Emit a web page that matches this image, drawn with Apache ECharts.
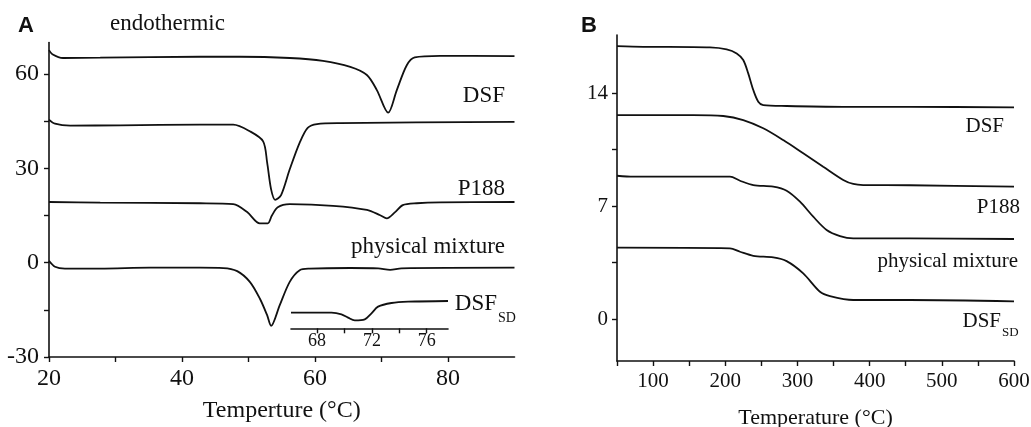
<!DOCTYPE html>
<html><head><meta charset="utf-8">
<script src="https://cdn.jsdelivr.net/npm/echarts@6/dist/echarts.min.js"></script>
<style>html,body{margin:0;padding:0;background:#fff}#c{width:1031px;height:427px}</style>
</head><body><div id="c"></div>
<script>
// ---------- Panel A (DSC) ----------
const aDSF_T = [20.0,20.5,22.1,27.7,42.7,48.7,56.2,61.2,65.3,67.8,69.3,71.0,72.3,73.8,75.0,78.8,90];
const aDSF_V = [67.6,66.3,65.1,65.2,65.5,65.5,65.1,64.2,62.3,59.7,54.9,47.7,54.9,62.8,65.3,65.8,65.7];
const aP188_T = [20,20.9,23.2,30.7,42.7,47.7,50.2,52.2,52.8,53.4,54.0,54.9,56.2,57.7,58.9,60.3,63.8,90];
const aP188_V = [45.5,44.2,43.6,43.7,43.9,43.9,41.8,38.6,31.9,23.3,20.0,21.5,29.7,38.2,42.9,44.1,44.4,44.8];
const aPM_T = [20,27.7,42.7,47.7,49.8,51.7,52.9,53.5,54.4,56.2,62.7,67.8,69.8,70.8,72.0,73.2,75.3,78.8,90];
const aPM_V = [19.3,19.1,18.9,18.6,16.1,12.5,12.5,14.9,17.6,18.6,18.1,16.8,15.1,14.1,16.0,18.3,18.9,19.2,19.3];
const aSD_T = [20,20.9,22.4,27.7,35.2,42.7,46.2,48.3,50.2,51.7,52.8,53.4,54.7,56.2,57.7,59.2,65.3,69.5,71.3,73,90];
const aSD_V = [0.6,-1.3,-1.9,-1.9,-1.6,-1.6,-1.7,-2.7,-6.1,-11.4,-16.7,-20.1,-13.5,-6.1,-2.4,-1.9,-1.7,-1.8,-2.3,-1.8,-1.6];
const insetT = [66.1,69.05,69.78,70.26,70.75,71.48,71.97,72.45,73.43,74.64,77.55];
const insetV = [4.7,4.7,4.2,3.2,2.4,2.7,4.5,6.5,7.6,8.0,8.2];
const aXTicks = [20,30,40,50,60,70,80];
const aXLabels = [20,40,60,80];
const aYTicks = [-30,-15,0,15,30,45,60];
const aYLabels = [-30,0,30,60];
const insetTicks = [68,70,72,74,76];
const insetLabels = [68,72,76];
// ---------- Panel B (TGA) ----------
const bDSF_T = [50,86.4,178.8,201.9,215.8,224.9,231.8,238.8,245.7,252.6,285,363.4,455.8,600];
const bDSF_V = [16.91,16.87,16.83,16.71,16.46,16.05,15.22,14.19,13.47,13.26,13.20,13.15,13.15,13.11];
const bP188_T = [50,155.7,197.2,224.9,252.6,280.3,308,335.7,363.4,377.3,391.1,455.8,600];
const bP188_V = [12.64,12.64,12.58,12.33,11.82,11.09,10.27,9.44,8.62,8.37,8.30,8.29,8.2];
const bPM_T = [50,72.6,206.5,220.4,238.8,266.5,285,303.5,321.9,340.4,358.9,377.3,455.8,600];
const bPM_V = [8.88,8.82,8.82,8.57,8.30,8.20,7.95,7.27,6.34,5.52,5.14,5.00,5.00,4.96];
const bSD_T = [50,206.5,220.4,238.8,266.5,285,308,331.2,345,377.3,455.8,600];
const bSD_V = [4.42,4.38,4.17,3.92,3.82,3.59,2.83,1.69,1.42,1.18,1.18,1.10];
const bXTicks = [50,100,150,200,250,300,350,400,450,500,550,600];
const bXLabels = [100,200,300,400,500,600];
const bYTicks = [0,3.5,7,10.5,14];
const bYLabels = [0,7,14];

const zip = (a,b) => a.map((v,i)=>[v,b[i]]);
const SERIF = '"Liberation Serif","Times New Roman",serif';
const INK = '#111111';

function axis(extra, ticks, labels, fs, margin) {
  return Object.assign({
    type:'value', splitLine:{show:false},
    axisLine:{show:true, onZero:false, lineStyle:{color:INK, width:1.6}},
    axisTick:{show:true, inside:false, length:5, customValues:ticks, lineStyle:{color:INK, width:1.4}},
    axisLabel:{show:true, customValues:labels, color:INK, fontFamily:SERIF, fontSize:fs, margin:margin}
  }, extra);
}
function line(name, data, xi, yi) {
  return {name, type:'line', xAxisIndex:xi, yAxisIndex:yi, data, showSymbol:false, smooth:0.3,
    lineStyle:{color:INK, width:1.8}, silent:true, animation:false};
}
function txt(text, x, y, fs, align) {
  return {type:'text', x, y, style:{text, fill:INK, fontFamily:SERIF, fontSize:fs,
    align:align, verticalAlign:'middle', textAlign:align, textVerticalAlign:'middle'}};
}
function bold(text, x, y) {
  return {type:'text', x, y, style:{text, fill:INK, fontFamily:'"Liberation Sans",Arial,sans-serif',
    fontWeight:'bold', fontSize:22, align:'left', verticalAlign:'middle', textAlign:'left', textVerticalAlign:'middle'}};
}

const chart = echarts.init(document.getElementById('c'), null, {renderer:'canvas'});
chart.setOption({
  backgroundColor:'#fff',
  animation:false,
  grid:[
    {left:49, top:42.6, width:465.5, height:314.4, containLabel:false, outerBoundsMode:'none'},
    {left:617, top:35, width:397, height:326, containLabel:false, outerBoundsMode:'none'},
    {left:291, top:295, width:157, height:33.3, containLabel:false, outerBoundsMode:'none'}
  ],
  xAxis:[
    axis({gridIndex:0, min:20, max:90, name:'Temperture (°C)', nameLocation:'middle', nameGap:42,
      nameTextStyle:{color:INK, fontFamily:SERIF, fontSize:24}}, aXTicks, aXLabels, 24, 10),
    axis({gridIndex:1, min:50, max:600, name:'Temperature (°C)', nameLocation:'middle', nameGap:46,
      nameTextStyle:{color:INK, fontFamily:SERIF, fontSize:22}}, bXTicks, bXLabels, 21, 10),
    axis({gridIndex:2, min:66.1, max:77.55}, insetTicks, insetLabels, 18, 4)
  ],
  yAxis:[
    axis({gridIndex:0, min:-30, max:70}, aYTicks, aYLabels, 24, 10),
    axis({gridIndex:1, min:-2.6, max:17.6}, bYTicks, bYLabels, 21, 9),
    {type:'value', gridIndex:2, min:0, max:10, show:false}
  ],
  series:[
    line('DSF', zip(aDSF_T,aDSF_V), 0, 0),
    line('P188', zip(aP188_T,aP188_V), 0, 0),
    line('physical mixture', zip(aPM_T,aPM_V), 0, 0),
    line('DSF_SD', zip(aSD_T,aSD_V), 0, 0),
    line('DSF_SD inset', zip(insetT,insetV), 2, 2),
    line('DSF', zip(bDSF_T,bDSF_V), 1, 1),
    line('P188', zip(bP188_T,bP188_V), 1, 1),
    line('physical mixture', zip(bPM_T,bPM_V), 1, 1),
    line('DSF_SD', zip(bSD_T,bSD_V), 1, 1)
  ],
  graphic:[
    bold('A', 18, 26),
    bold('B', 581, 26),
    txt('endothermic', 110, 24, 23, 'left'),
    txt('DSF', 505, 96, 23, 'right'),
    txt('P188', 505, 189, 23, 'right'),
    txt('physical mixture', 505, 247, 23, 'right'),
    txt('DSF', 497, 304, 23, 'right'),
    txt('SD', 498, 318, 14, 'left'),
    txt('DSF', 1004, 126, 21, 'right'),
    txt('P188', 1020, 207, 21, 'right'),
    txt('physical mixture', 1018, 261, 21, 'right'),
    txt('DSF', 1001, 321, 21, 'right'),
    txt('SD', 1002, 333, 13, 'left')
  ]
});
</script></body></html>
